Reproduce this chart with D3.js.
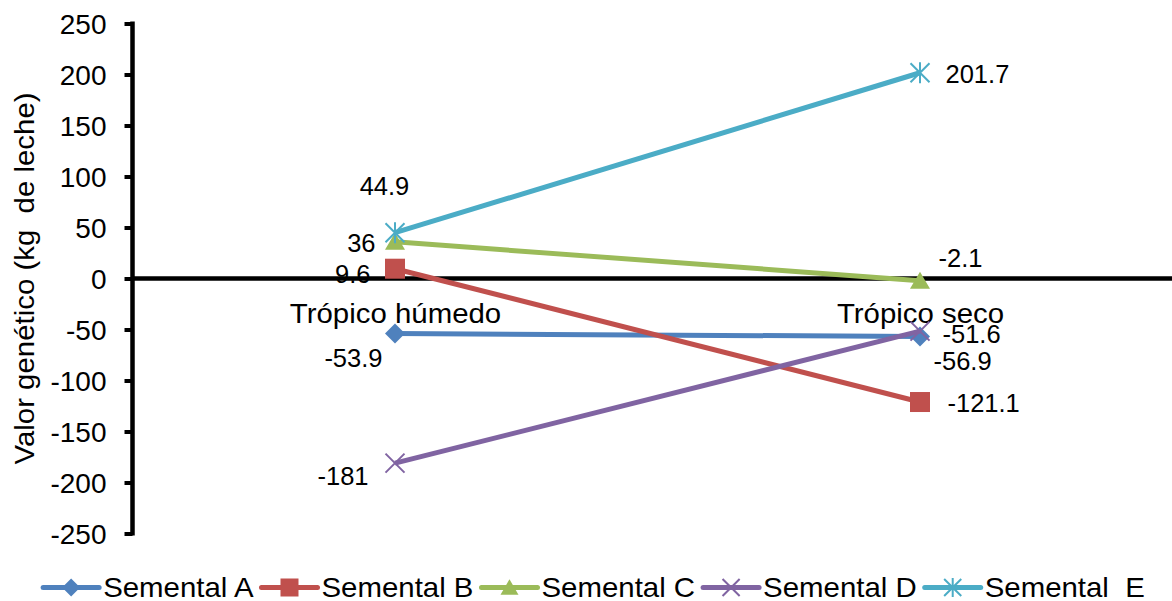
<!DOCTYPE html>
<html>
<head>
<meta charset="utf-8">
<script src="https://cdn.jsdelivr.net/npm/d3@7"></script>
<style>
  html, body { margin: 0; padding: 0; background: #fff; }
  svg { display: block; font-family: "Liberation Sans", Arial, sans-serif; }
  text { white-space: pre; font-family: "Liberation Sans", Arial, sans-serif; }
</style>
</head>
<body>
<svg id="chart" width="1172" height="601"></svg>
<script>
// ---- data ----
const categories = ["Trópico húmedo", "Trópico seco"];
const seriesNames = ["Semental A", "Semental B", "Semental C", "Semental D", "Semental  E"];
const sementalA = [-53.9, -56.9];
const sementalB = [9.6, -121.1];
const sementalC = [36, -2.1];
const sementalD = [-181, -51.6];
const sementalE = [44.9, 201.7];
const yTicks = [-250, -200, -150, -100, -50, 0, 50, 100, 150, 200, 250];
const yTitle = "Valor genético (kg  de leche)";

// ---- styling / layout ----
const colors = ["#4F81BD", "#C0504D", "#9BBB59", "#8064A2", "#4BACC6"];
const markers = ["diamond", "square", "triangle", "x", "asterisk"];
// label placement per series per point: [anchor, dx, dy]
const labelPlacement = [
  [["end", -12.5, 33.5], ["start", 13.5, 33.5]],
  [["end", -24.5, 14], ["start", 27.5, 10]],
  [["end", -19.5, 10], ["start", 18.5, -13.6]],
  [["end", -26.5, 22], ["start", 22.5, 12]],
  [["middle", -10.5, -37.7], ["start", 25.5, 10]]
];
const seriesValues = [sementalA, sementalB, sementalC, sementalD, sementalE];

const svg = d3.select("#chart");
const FS = 28;       // axis, title, legend
const FS_LBL = 25.5; // data labels
const STRETCH = 1.05;

function stretch(sel) {
  sel.each(function () {
    const len = this.getComputedTextLength();
    d3.select(this).attr("textLength", len * STRETCH).attr("lengthAdjust", "spacingAndGlyphs");
  });
}

const x = d3.scalePoint().domain(categories).range([132.5, 1182.5]).padding(0.5);
const y = d3.scaleLinear().domain([-250, 250]).range([533.5, 23.5]);

// y axis
const yAxis = svg.append("g").attr("transform", "translate(132.5,0)")
  .call(d3.axisLeft(y).tickValues(yTicks).tickSize(8).tickPadding(18).tickFormat(d => String(d)));
yAxis.select(".domain").attr("stroke", "#000").attr("stroke-width", 4.5)
  .attr("d", `M0,${y(250) - 2}V${y(-250) + 2}`);
yAxis.selectAll(".tick line").attr("stroke", "#000").attr("stroke-width", 4);
yAxis.selectAll(".tick text").attr("font-size", FS).attr("fill", "#000").attr("dy", "0.36em");

// zero line
svg.append("line").attr("x1", 132.5).attr("x2", 1172).attr("y1", y(0)).attr("y2", y(0))
  .attr("stroke", "#000").attr("stroke-width", 4.5);

// category labels
const xAxis = svg.append("g").attr("transform", `translate(0,${y(0)})`)
  .call(d3.axisBottom(x).tickSize(0).tickPadding(0));
xAxis.select(".domain").remove();
xAxis.selectAll(".tick text").attr("font-size", FS).attr("fill", "#000")
  .attr("dy", null).attr("y", 44.5).call(stretch);

// y title
svg.append("text")
  .attr("transform", `translate(33.5,${(y(250) + y(-250)) / 2}) rotate(-90)`)
  .attr("text-anchor", "middle").attr("font-size", FS).attr("fill", "#000")
  .text(yTitle).call(stretch);

function drawMarker(g, type, cx, cy, color, k = 1) {
  if (type === "diamond") {
    const r = 10 * k;
    g.append("path").attr("d", `M${cx},${cy - r}L${cx + r},${cy}L${cx},${cy + r}L${cx - r},${cy}Z`).attr("fill", color);
  } else if (type === "square") {
    const s = 20 * k;
    g.append("rect").attr("x", cx - s / 2).attr("y", cy - s / 2).attr("width", s).attr("height", s).attr("fill", color);
  } else if (type === "triangle") {
    const w = 20 * k, h = 16 * k;
    g.append("path").attr("d", `M${cx},${cy - h / 2 - 1}L${cx + w / 2},${cy + h / 2}L${cx - w / 2},${cy + h / 2}Z`).attr("fill", color);
  } else if (type === "x") {
    const r = 9.5 * k;
    g.append("path").attr("d", `M${cx - r},${cy - r}L${cx + r},${cy + r}M${cx - r},${cy + r}L${cx + r},${cy - r}`)
      .attr("stroke", color).attr("stroke-width", 2).attr("fill", "none");
  } else if (type === "asterisk") {
    const r = 9.5 * k;
    g.append("path").attr("d", `M${cx - r},${cy - r}L${cx + r},${cy + r}M${cx - r},${cy + r}L${cx + r},${cy - r}M${cx},${cy - r - 1}L${cx},${cy + r + 1}`)
      .attr("stroke", color).attr("stroke-width", 2).attr("fill", "none");
  }
}

const line = d3.line().x((d, i) => x(categories[i])).y(d => y(d));

seriesValues.forEach((vals, si) => {
  const g = svg.append("g");
  g.append("path").datum(vals).attr("d", line).attr("fill", "none")
    .attr("stroke", colors[si]).attr("stroke-width", 5).attr("stroke-linejoin", "round");
  vals.forEach((v, i) => drawMarker(g, markers[si], x(categories[i]), y(v), colors[si]));
});

// data labels
seriesValues.forEach((vals, si) => {
  vals.forEach((v, i) => {
    const [anchor, dx, dy] = labelPlacement[si][i];
    svg.append("text").attr("x", x(categories[i]) + dx).attr("y", y(v) + dy)
      .attr("text-anchor", anchor).attr("font-size", FS_LBL).attr("fill", "#000")
      .text(String(v));
  });
});

// legend
const legend = svg.append("g");
const ly = 587.5;
const lineLen = 56, textGap = 4, itemGap = 8;
let lx = 0;
seriesNames.forEach((name, si) => {
  const g = legend.append("g");
  g.append("line").attr("x1", lx).attr("x2", lx + lineLen).attr("y1", ly).attr("y2", ly)
    .attr("stroke", colors[si]).attr("stroke-width", 5).attr("stroke-linecap", "round");
  drawMarker(g, markers[si], lx + lineLen / 2, ly, colors[si], 0.9);
  const t = g.append("text").attr("x", lx + lineLen + textGap).attr("y", ly + 9).attr("font-size", FS)
    .attr("fill", "#000").text(name);
  const natural = t.node().getComputedTextLength();
  t.attr("textLength", natural * STRETCH).attr("lengthAdjust", "spacingAndGlyphs");
  lx = lx + lineLen + textGap + natural * STRETCH + itemGap;
});
const totalW = lx - itemGap;
legend.attr("transform", `translate(${594 - totalW / 2},0)`);
</script>
</body>
</html>
